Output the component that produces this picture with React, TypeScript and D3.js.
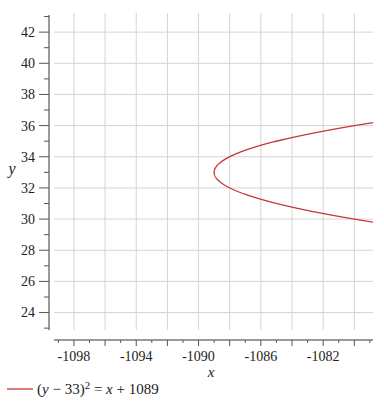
import React from "react";
import * as d3 from "d3";

const xDomain: [number, number] = [-1099.28, -1078.8];
const yDomain: [number, number] = [22.88, 43.1];
const xGridValues = [-1098, -1096, -1094, -1092, -1090, -1088, -1086, -1084, -1082, -1080];
const xLabelValues = [-1098, -1094, -1090, -1086, -1082];
const xMinorValues = [-1099, -1097, -1095, -1093, -1091, -1089, -1087, -1085, -1083, -1081, -1079];
const yLabelValues = [24, 26, 28, 30, 32, 34, 36, 38, 40, 42];
const yMinorValues = [23, 25, 27, 29, 31, 33, 35, 37, 39, 41, 43];
const curveCenter = 33;
const curveOffset = 1089;

const W = 384, H = 409;
const left = 54, right = 373, top = 15, bottom = 330;
const axisX = 49, axisY = 340;

export default function App() {
  const x = d3.scaleLinear().domain(xDomain).range([left, right]);
  const y = d3.scaleLinear().domain(yDomain).range([bottom, top]);

  const xmax = xDomain[1];
  const half = Math.sqrt(xmax + curveOffset);
  const ys = d3.range(0, 401).map((i) => curveCenter - half + (2 * half * i) / 400);
  const pts: [number, number][] = ys.map((v) => [(v - curveCenter) ** 2 - curveOffset, v]);
  const line = d3
    .line<[number, number]>()
    .x((d) => x(d[0]))
    .y((d) => y(d[1]))
    .curve(d3.curveLinear);

  const grid = "#d4d4d4";
  const axisC = "#9a9a9a";
  const font = "Liberation Serif, Times New Roman, serif";

  return (
    <svg width={W} height={H} style={{ position: "absolute", left: 0, top: 0, fontFamily: font }}>
      <rect width={W} height={H} fill="white" />
      {xGridValues.map((v) => (
        <line key={"gx" + v} x1={x(v)} x2={x(v)} y1={13} y2={bottom} stroke={grid} strokeWidth={1} />
      ))}
      {yLabelValues.map((v) => (
        <line key={"gy" + v} x1={left} x2={right} y1={y(v)} y2={y(v)} stroke={grid} strokeWidth={1} />
      ))}
      {/* y axis */}
      <line x1={axisX} x2={axisX} y1={top} y2={bottom} stroke={axisC} strokeWidth={2} />
      {yLabelValues.map((v) => (
        <g key={"yt" + v}>
          <line x1={axisX - 10} x2={axisX} y1={y(v)} y2={y(v)} stroke="#555" strokeWidth={1} />
          <text x={35} y={y(v)} dy="0.35em" textAnchor="end" fontSize={14} fill="#222">
            {v}
          </text>
        </g>
      ))}
      {yMinorValues.map((v) => (
        <line key={"ym" + v} x1={axisX - 5} x2={axisX} y1={y(v)} y2={y(v)} stroke="#555" strokeWidth={1} />
      ))}
      {/* x axis */}
      <line x1={left} x2={right} y1={axisY} y2={axisY} stroke={axisC} strokeWidth={2} />
      {xGridValues.map((v) => (
        <line key={"xt" + v} x1={x(v)} x2={x(v)} y1={axisY} y2={axisY + 6} stroke="#555" strokeWidth={1} />
      ))}
      {xMinorValues.map((v) => (
        <line key={"xm" + v} x1={x(v)} x2={x(v)} y1={axisY} y2={axisY + 3} stroke="#555" strokeWidth={1} />
      ))}
      {xLabelValues.map((v) => (
        <text key={"xl" + v} x={x(v)} y={361} textAnchor="middle" fontSize={14} fill="#222">
          {"-" + Math.abs(v)}
        </text>
      ))}
      <text x={211} y={377} textAnchor="middle" fontSize={15} fontStyle="italic" fill="#222">
        x
      </text>
      <text x={12} y={174} textAnchor="middle" fontSize={16} fontStyle="italic" fill="#222">
        y
      </text>
      <path d={line(pts) || ""} fill="none" stroke="#c83737" strokeWidth={1.3} />
      {/* legend */}
      <line x1={7} x2={33} y1={389} y2={389} stroke="#c83737" strokeWidth={1.3} />
      <text x={37} y={394} fontSize={15} fill="#222">
        <tspan>(</tspan>
        <tspan fontStyle="italic">y</tspan>
        <tspan> − 33)</tspan>
        <tspan fontSize={11} dy={-5}>2</tspan>
        <tspan dy={5}> = </tspan>
        <tspan fontStyle="italic">x</tspan>
        <tspan> + 1089</tspan>
      </text>
    </svg>
  );
}
